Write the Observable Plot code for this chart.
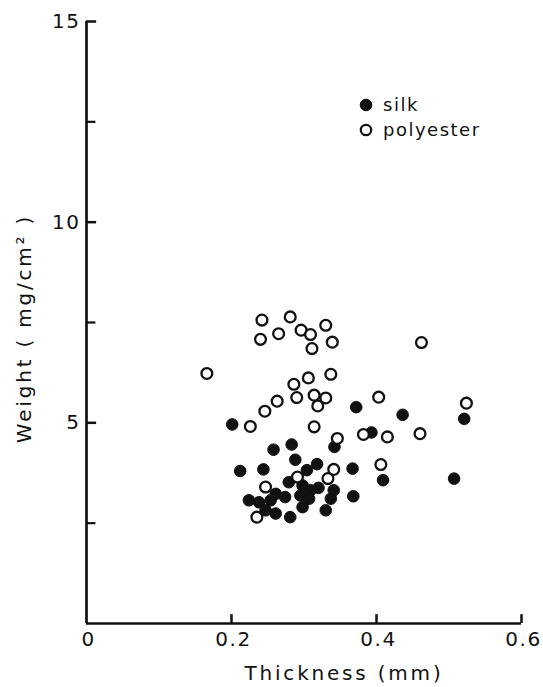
<!DOCTYPE html>
<html><head><meta charset="utf-8">
<script src="https://cdn.jsdelivr.net/npm/d3@7"></script>
<script src="https://cdn.jsdelivr.net/npm/@observablehq/plot@0.6"></script>
<style>
body{margin:0;background:#fff}
#wrap{position:relative;width:543px;height:687px;font-family:"DejaVu Sans",sans-serif;color:#111}
#wrap svg text{letter-spacing:1.5px}
#legend{position:absolute;left:359px;top:92px;font-size:18px;letter-spacing:1.5px;line-height:25px}
#legend div{display:flex;align-items:center}
#legend svg{margin-right:10px}
</style>
</head><body><div id="wrap"><div id="legend"></div></div>
<script>
const seriesNames = ["silk", "polyester"];
const silkX = [0.201,0.372,0.436,0.521,0.393,0.342,0.258,0.283,0.288,0.212,0.244,0.318,0.304,0.367,0.279,0.298,0.309,0.320,0.295,0.307,0.261,0.274,0.341,0.337,0.368,0.224,0.238,0.254,0.247,0.261,0.298,0.330,0.281,0.409,0.507];
const silkY = [4.96,5.39,5.20,5.10,4.76,4.40,4.33,4.46,4.08,3.80,3.84,3.97,3.82,3.86,3.52,3.44,3.32,3.38,3.19,3.11,3.23,3.15,3.32,3.11,3.17,3.07,3.02,3.07,2.82,2.74,2.90,2.82,2.65,3.57,3.61];
const polyX = [0.242,0.281,0.330,0.240,0.265,0.296,0.309,0.311,0.339,0.166,0.337,0.306,0.286,0.290,0.314,0.330,0.319,0.263,0.246,0.226,0.314,0.346,0.403,0.382,0.415,0.460,0.524,0.291,0.341,0.333,0.247,0.406,0.462,0.235];
const polyY = [7.56,7.64,7.43,7.08,7.22,7.31,7.20,6.85,7.01,6.23,6.21,6.12,5.96,5.63,5.69,5.62,5.42,5.54,5.29,4.91,4.90,4.61,5.64,4.71,4.65,4.73,5.49,3.65,3.84,3.61,3.40,3.96,7.00,2.65];
const xTicks = [0, 0.2, 0.4, 0.6];
const yTicks = [5, 10, 15];
const yMinor = [2.5, 7.5, 12.5];
const xLabel = "Thickness (mm)";
const yLabel = "Weight ( mg/cm² )";

const silk = silkX.map((x, i) => ({x, y: silkY[i]}));
const poly = polyX.map((x, i) => ({x, y: polyY[i]}));

const plot = Plot.plot({
  width: 543, height: 687,
  marginLeft: 86, marginRight: 22, marginTop: 21, marginBottom: 64,
  style: {fontFamily: "DejaVu Sans", fontSize: "20px", color: "#111", background: "white", overflow: "visible"},
  x: {domain: [0, 0.6]},
  y: {domain: [0, 15]},
  marks: [
    Plot.axisX(xTicks, {tickSize: 0, tickPadding: 8, fontSize: 20, dx: 2,
      tickFormat: d => d === 0 ? "0" : d3.format(".1f")(d), label: null}),
    Plot.axisY(yTicks, {tickSize: 0, tickPadding: 6, fontSize: 20, label: null}),
    Plot.text([xLabel], {frameAnchor: "bottom", dx: 40, dy: 56, fontSize: 20, fill: "#111"}),
    Plot.text([yLabel], {frameAnchor: "left", textAnchor: "middle", rotate: -90, dx: -62, dy: 6, fontSize: 20, fill: "#111"}),
    Plot.ruleY(yTicks, {x1: 0, x2: 0.014, stroke: "#111", strokeWidth: 2.5}),
    Plot.ruleY(yMinor, {x1: 0, x2: 0.013, stroke: "#111", strokeWidth: 2.2}),
    Plot.ruleX(xTicks.slice(1), {y1: 0, y2: 0.22, stroke: "#111", strokeWidth: 2.5}),
    Plot.ruleX([0], {y1: 0, y2: 15, stroke: "#111", strokeWidth: 2.7}),
    Plot.ruleY([0], {x1: 0, x2: 0.6, stroke: "#111", strokeWidth: 2.7}),
    Plot.dot(silk, {x: "x", y: "y", r: 5.8, fill: "#111", stroke: "#111", strokeWidth: 1}),
    Plot.dot(poly, {x: "x", y: "y", r: 5.4, fill: "white", stroke: "#111", strokeWidth: 2.3})
  ]
});
d3.select(plot).selectAll("text")
  .filter(function() { return this.textContent === xLabel || this.textContent === yLabel; })
  .style("letter-spacing", "2.8px");
document.getElementById("wrap").prepend(plot);
plot.style.position = "absolute"; plot.style.left = "0"; plot.style.top = "0";

const legend = document.getElementById("legend");
seriesNames.forEach((name, i) => {
  const row = document.createElement("div");
  row.innerHTML = `<svg width="14" height="14"><circle cx="7" cy="7" r="${i === 0 ? 5.8 : 5.2}" fill="${i === 0 ? "#111" : "white"}" stroke="#111" stroke-width="${i === 0 ? 1 : 2.2}"/></svg><span>${name}</span>`;
  legend.appendChild(row);
});
</script>
</body></html>
